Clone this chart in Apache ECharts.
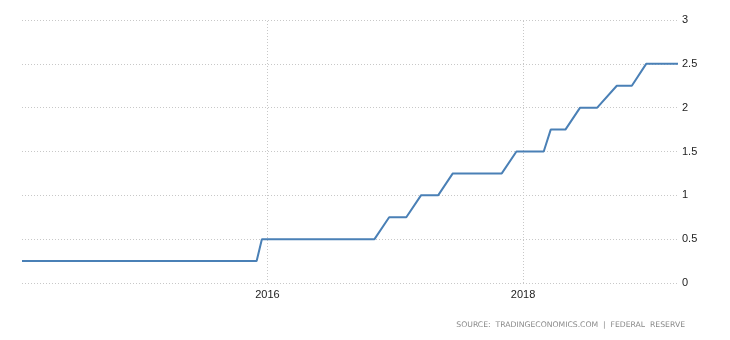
<!DOCTYPE html>
<html>
<head>
<meta charset="utf-8">
<script src="https://cdn.jsdelivr.net/npm/echarts@6/dist/echarts.min.js"></script>
<style>
  html, body { margin: 0; padding: 0; background: #fff; }
  #chart { width: 730px; height: 340px; }
</style>
</head>
<body>
<div id="chart"></div>
<script>
// Federal funds rate (upper bound), points at FOMC decision dates
var dates = [
  '2014-01-29','2014-03-19','2014-04-30','2014-06-18','2014-07-30','2014-09-17','2014-10-29','2014-12-17',
  '2015-01-28','2015-03-18','2015-04-29','2015-06-17','2015-07-29','2015-09-17','2015-10-28','2015-12-01','2015-12-16',
  '2016-01-27','2016-03-16','2016-04-27','2016-06-15','2016-07-27','2016-09-21','2016-11-02','2016-12-14',
  '2017-02-01','2017-03-15','2017-05-03','2017-06-14','2017-07-26','2017-09-20','2017-11-01','2017-12-13',
  '2018-01-31','2018-03-01','2018-03-21','2018-05-02','2018-06-13','2018-08-01','2018-09-26','2018-11-08','2018-12-19',
  '2019-01-30','2019-03-20'
];
var rates = [
  0.25,0.25,0.25,0.25,0.25,0.25,0.25,0.25,
  0.25,0.25,0.25,0.25,0.25,0.25,0.25,0.25,0.5,
  0.5,0.5,0.5,0.5,0.5,0.5,0.5,0.75,
  0.75,1.0,1.0,1.25,1.25,1.25,1.25,1.5,
  1.5,1.5,1.75,1.75,2.0,2.0,2.25,2.25,2.5,
  2.5,2.5
];
var xLabelYears = [2016, 2018];
var yTicks = { min: 0, max: 3, interval: 0.5 };
var sourceText = 'SOURCE:  TRADINGECONOMICS.COM  |  FEDERAL  RESERVE';

var seriesData = dates.map(function (d, i) { return [d, rates[i]]; });
var gridDates = xLabelYears.map(function (y) { return { xAxis: y + '-01-01' }; });

var chart = echarts.init(document.getElementById('chart'), null, { renderer: 'canvas' });
chart.setOption({
  animation: false,
  backgroundColor: '#ffffff',
  grid: { left: 22, right: 52, top: 20, bottom: 57, containLabel: false },
  xAxis: {
    type: 'time',
    min: dates[0],
    max: dates[dates.length - 1],
    axisLine: { show: false },
    axisTick: { show: false },
    splitLine: { show: false },
    minorTick: { show: false },
    axisLabel: {
      color: '#222',
      fontFamily: 'Liberation Sans, Arial, sans-serif',
      fontSize: 11,
      margin: 6,
      hideOverlap: false,
      formatter: function (value) {
        var d = new Date(value);
        if (d.getMonth() === 0 && d.getDate() === 1 && xLabelYears.indexOf(d.getFullYear()) >= 0) {
          return String(d.getFullYear());
        }
        return '';
      }
    }
  },
  yAxis: {
    type: 'value',
    position: 'right',
    min: yTicks.min,
    max: yTicks.max,
    interval: yTicks.interval,
    axisLine: { show: false },
    axisTick: { show: false },
    axisLabel: {
      color: '#222',
      fontFamily: 'Liberation Sans, Arial, sans-serif',
      fontSize: 11,
      margin: 4,
      formatter: function (v) { return String(v); }
    },
    splitLine: { show: true, lineStyle: { color: '#c8c8c8', width: 1, type: [1, 2] } }
  },
  series: [{
    type: 'line',
    data: seriesData,
    showSymbol: false,
    symbol: 'none',
    lineStyle: { color: '#4a80b6', width: 2 },
    itemStyle: { color: '#4a80b6' },
    z: 3,
    markLine: {
      silent: true,
      symbol: 'none',
      label: { show: false },
      lineStyle: { color: '#c8c8c8', width: 1, type: [1, 2] },
      z: 1,
      data: gridDates
    }
  }],
  graphic: [{
    type: 'text',
    right: 45,
    top: 321,
    style: {
      text: sourceText,
      fill: '#8a8a8a',
      font: '7.7px "DejaVu Sans", sans-serif'
    }
  }]
});
</script>
</body>
</html>
